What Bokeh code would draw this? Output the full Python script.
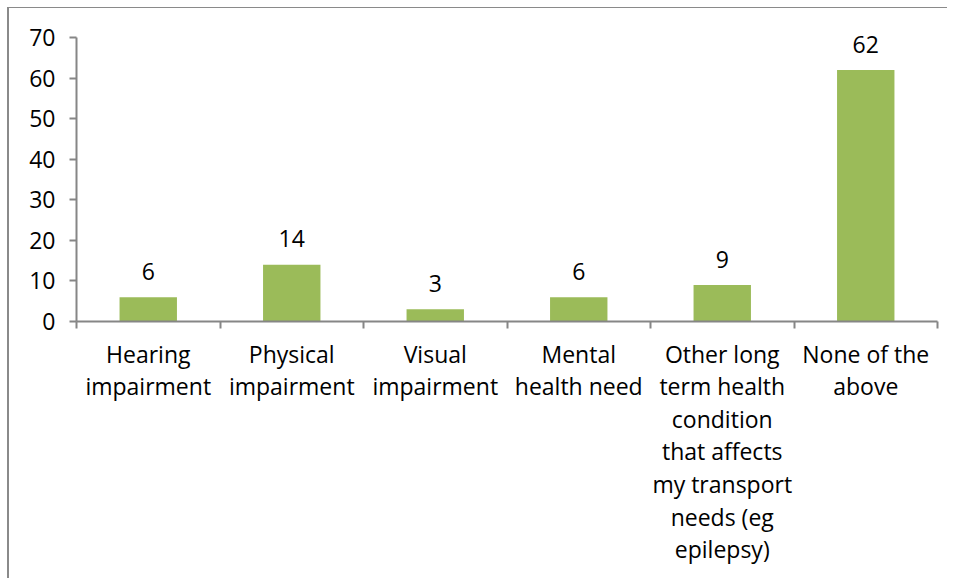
from bokeh.plotting import figure
from bokeh.models import Range1d, FixedTicker, ColumnDataSource, LabelSet
from bokeh.core.properties import value
from bokeh.embed import file_html
from bokeh.resources import INLINE

categories = ["Hearing\nimpairment", "Physical\nimpairment", "Visual\nimpairment",
              "Mental\nhealth need",
              "Other long\nterm health\ncondition\nthat affects\nmy transport\nneeds (eg\nepilepsy)",
              "None of the\nabove"]
values = [6, 14, 3, 6, 9, 62]
y_ticks = [0, 10, 20, 30, 40, 50, 60, 70]

FONT = "Open Sans"
FS = "23px"
GRAY = "#868686"
GREEN = "#9BBB59"

xs = [i + 0.5 for i in range(len(categories))]
src = ColumnDataSource(dict(x=xs, top=values, lab=[str(v) for v in values]))

p = figure(width=940, height=571, output_backend="svg", toolbar_location=None,
           x_range=Range1d(0, len(categories)), y_range=Range1d(0, 72),
           min_border_left=67, min_border_right=12, min_border_top=21, min_border_bottom=258)
p.styles = {"border-left": "2px solid #8a8a8a", "border-top": "1px solid #8a8a8a",
            "margin-left": "7px", "margin-top": "7px"}
p.outline_line_color = None
p.grid.visible = False

p.vbar(x="x", top="top", width=0.4, source=src, fill_color=GREEN, line_color=None)

labels = LabelSet(x="x", y="top", text="lab", source=src, text_align="center",
                  text_baseline="middle", y_offset=26, text_font=value(FONT),
                  text_font_size=FS, text_color="#000000")
p.add_layout(labels)

xa = p.xaxis[0]
xa.ticker = FixedTicker(ticks=xs, minor_ticks=list(range(len(categories) + 1)))
xa.major_label_overrides = {x: c for x, c in zip(xs, categories)}
xa.major_tick_line_color = None
xa.minor_tick_out = 7
xa.minor_tick_in = 0
xa.minor_tick_line_color = GRAY
xa.minor_tick_line_width = 2
xa.axis_line_color = GRAY
xa.axis_line_width = 2
xa.major_label_text_font = FONT
xa.major_label_text_font_size = FS
xa.major_label_text_color = "#000000"
xa.major_label_text_line_height = 1.02
xa.major_label_standoff = 9

ya = p.yaxis[0]
ya.ticker = FixedTicker(ticks=y_ticks)
ya.bounds = (0, 70)
ya.major_tick_out = 7
ya.major_tick_in = 0
ya.major_tick_line_color = GRAY
ya.major_tick_line_width = 2
ya.minor_tick_line_color = None
ya.axis_line_color = GRAY
ya.axis_line_width = 2
ya.major_label_text_font = FONT
ya.major_label_text_font_size = FS
ya.major_label_text_color = "#000000"
ya.major_label_standoff = 14

open("out.html", "w").write(file_html(p, INLINE))
